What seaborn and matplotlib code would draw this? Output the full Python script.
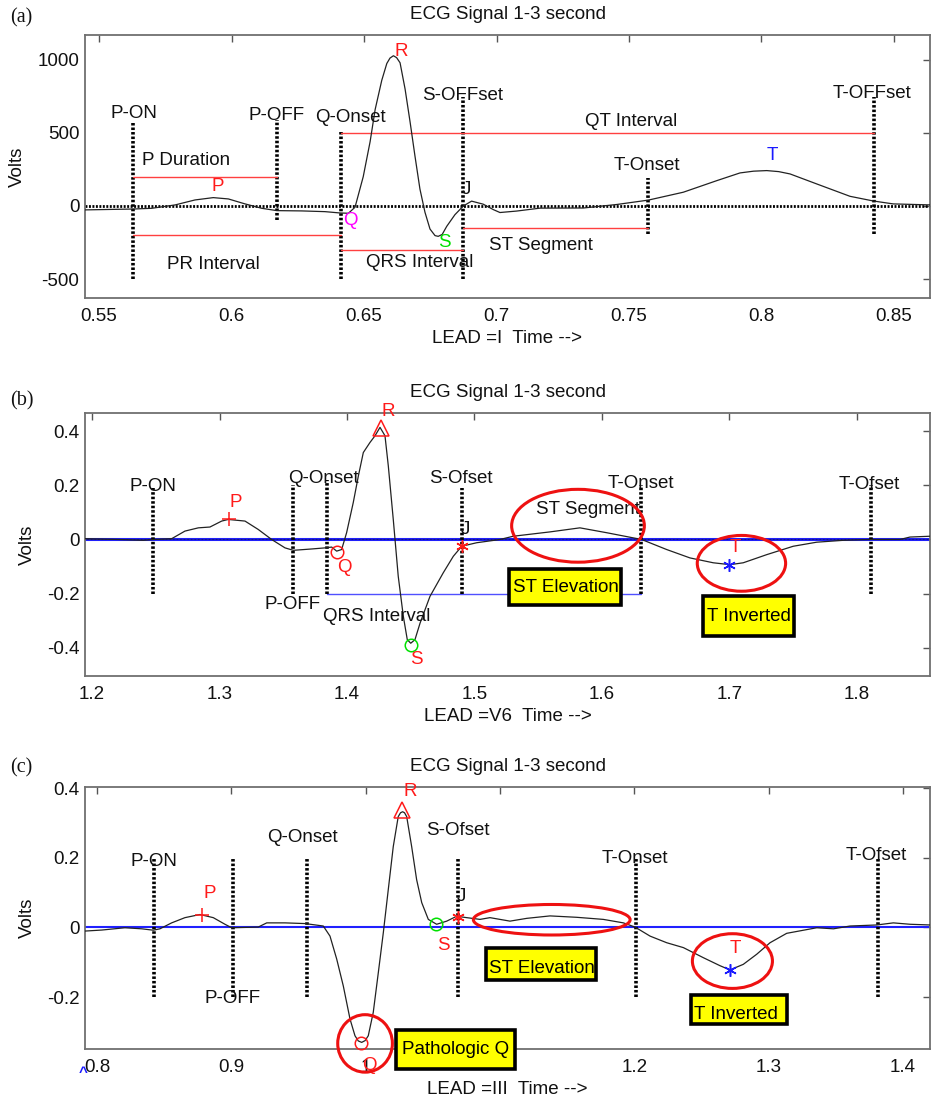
import matplotlib
matplotlib.use("Agg")
import matplotlib.pyplot as plt
import seaborn as sns
import pandas as pd
from matplotlib.patches import Ellipse, Rectangle

# ---------------- data: panel (a) LEAD I ----------------
a_time = [0.5447, 0.5629, 0.5699, 0.5787, 0.5862, 0.5931, 0.5988, 0.6051, 0.6114, 0.6171,
          0.6265, 0.6353, 0.6409, 0.6441, 0.6466, 0.6497, 0.6523, 0.6542, 0.6567, 0.6586,
          0.6598, 0.6611, 0.6623, 0.6636, 0.6655, 0.6674, 0.6692, 0.6711, 0.6730, 0.6749,
          0.6768, 0.6780, 0.6795, 0.6812, 0.6843, 0.6875, 0.6906, 0.6950, 0.6988, 0.7013,
          0.7076, 0.7164, 0.7328, 0.7454, 0.7573, 0.7705, 0.7831, 0.7919, 0.7970, 0.8020,
          0.8065, 0.8108, 0.8208, 0.8334, 0.8422, 0.8497, 0.8640]
a_volts = [-27, -21, -16, 7, 41, 57, 48, 14, -16, -32,
           -34, -39, -48, -50, -9, 200, 440, 660, 860, 975,
           1012, 1028, 1015, 980, 800, 573, 345, 116, -43, -158,
           -203, -208, -195, -140, -60, 0, 33, 12, -25, -45,
           -35, -15, -14, 10, 40, 94, 173, 226, 238, 242,
           235, 219, 151, 66, 34, 14, 7]
a_xticks = [0.55, 0.6, 0.65, 0.7, 0.75, 0.8, 0.85]
a_xticklabels = ["0.55", "0.6", "0.65", "0.7", "0.75", "0.8", "0.85"]
a_yticks = [-500, 0, 500, 1000]
a_yticklabels = ["-500", "0", "500", "1000"]

# ---------------- data: panel (b) LEAD V6 ----------------
b_time = [1.1945, 1.2206, 1.2402, 1.2481, 1.2625, 1.2729, 1.2834, 1.2925, 1.3017, 1.3069,
          1.3200, 1.3304, 1.3409, 1.3514, 1.3579, 1.3723, 1.3827, 1.3880, 1.3919, 1.3958,
          1.3997, 1.4049, 1.4089, 1.4128, 1.4180, 1.4220, 1.4259, 1.4298, 1.4324, 1.4363,
          1.4402, 1.4442, 1.4473, 1.4500, 1.4533, 1.4573, 1.4651, 1.4755, 1.4834, 1.4900,
          1.5017, 1.5200, 1.5304, 1.5592, 1.5827, 1.6037, 1.6311, 1.6507, 1.6690, 1.6873,
          1.7004, 1.7108, 1.7292, 1.7500, 1.7684, 1.7893, 1.8102, 1.8337, 1.8416, 1.8573]
b_volts = [0.003, 0.0, -0.003, 0.0, 0.003, 0.031, 0.043, 0.046, 0.068, 0.074,
           0.068, 0.037, 0.0, -0.031, -0.040, -0.035, -0.031, -0.028, -0.043, -0.037,
           0.025, 0.136, 0.234, 0.321, 0.358, 0.383, 0.414, 0.383, 0.272, 0.074,
           -0.136, -0.284, -0.370, -0.383, -0.370, -0.309, -0.210, -0.123, -0.062, -0.025,
           -0.012, 0.0, 0.012, 0.028, 0.043, 0.025, 0.0, -0.037, -0.068, -0.086,
           -0.093, -0.086, -0.056, -0.025, -0.010, -0.003, 0.0, 0.0, 0.009, 0.012]
b_xticks = [1.2, 1.3, 1.4, 1.5, 1.6, 1.7, 1.8]
b_xticklabels = ["1.2", "1.3", "1.4", "1.5", "1.6", "1.7", "1.8"]
b_yticks = [-0.4, -0.2, 0, 0.2, 0.4]
b_yticklabels = ["-0.4", "-0.2", "0", "0.2", "0.4"]

# ---------------- data: panel (c) LEAD III ----------------
c_time = [0.7911, 0.8035, 0.8208, 0.8333, 0.8419, 0.8469, 0.8556, 0.8655, 0.8767, 0.8866,
          0.8953, 0.9003, 0.9201, 0.9264, 0.9400, 0.9549, 0.9685, 0.9735, 0.9785, 0.9834,
          0.9884, 0.9921, 0.9946, 0.9971, 0.9996, 1.0020, 1.0057, 1.0095, 1.0132, 1.0169,
          1.0206, 1.0243, 1.0260, 1.0276, 1.0290, 1.0306, 1.0343, 1.0380, 1.0418, 1.0467,
          1.0529, 1.0604, 1.0678, 1.0753, 1.0852, 1.0926, 1.1075, 1.1200, 1.1373, 1.1572,
          1.1770, 1.1919, 1.2006, 1.2118, 1.2242, 1.2366, 1.2515, 1.2639, 1.2713, 1.2812,
          1.2912, 1.3011, 1.3135, 1.3359, 1.3483, 1.3607, 1.3806, 1.3929, 1.4054, 1.4203]
c_volts = [-0.0105, -0.0076, -0.001, -0.004, -0.008, -0.004, 0.013, 0.028, 0.037, 0.028,
           0.009, -0.001, 0.001, 0.013, 0.013, 0.011, 0.004, -0.025, -0.091, -0.168,
           -0.263, -0.311, -0.326, -0.330, -0.325, -0.311, -0.244, -0.129, -0.015, 0.109,
           0.232, 0.318, 0.329, 0.332, 0.329, 0.318, 0.232, 0.137, 0.071, 0.023,
           0.009, 0.018, 0.032, 0.028, 0.023, 0.028, 0.018, 0.026, 0.033, 0.029,
           0.023, 0.013, 0.001, -0.025, -0.044, -0.058, -0.087, -0.110, -0.122, -0.106,
           -0.077, -0.044, -0.017, -0.001, -0.004, 0.004, 0.007, 0.013, 0.009, 0.007]
c_xticks = [0.8, 0.9, 1.0, 1.1, 1.2, 1.3, 1.4]
c_xticklabels = ["0.8", "0.9", "1", "", "1.2", "1.3", "1.4"]
c_yticks = [-0.2, 0, 0.2, 0.4]
c_yticklabels = ["-0.2", "0", "0.2", "0.4"]

# ---------------- style ----------------
sns.set_theme(style="white")
plt.rcParams["font.family"] = ["Liberation Sans", "DejaVu Sans"]
plt.rcParams["axes.unicode_minus"] = False

RED = "#ff1a1a"
MAG = "#ff00ff"
GRN = "#00e000"
BLU = "#1a1aff"
FS = 13.5
DOT = (0, (0.7, 0.55))

fig = plt.figure(figsize=(9.31, 11.02), dpi=100)
W, H = 931.0, 1102.0


def make_ax(top_px, bot_px):
    left, right = 85 / W, 930 / W
    return fig.add_axes([left, 1 - bot_px / H, right - left, (bot_px - top_px) / H])


def style_ax(ax, xlim, ylim, xt, xtl, yt, ytl, lead, ylab_x):
    ax.set_xlim(*xlim)
    ax.set_ylim(*ylim)
    ax.set_xticks(xt)
    ax.set_xticklabels(xtl)
    ax.set_yticks(yt)
    ax.set_yticklabels(ytl)
    ax.tick_params(direction="in", length=5, width=1, colors="#555555",
                   labelcolor="#111111", labelsize=FS, top=True, right=True)
    ax.tick_params(axis="x", pad=7)
    ax.tick_params(axis="y", pad=4)
    for s in ax.spines.values():
        s.set_color("#707070")
        s.set_linewidth(1.3)
        s.set_visible(True)
    ax.set_xlabel("")
    ax.set_ylabel("")
    ax.text(0.5, 1.078, "ECG Signal 1-3 second", transform=ax.transAxes,
            ha="center", va="center", fontsize=FS, color="#111111")
    ax.text(0.5, -0.155, f"LEAD ={lead}  Time -->", transform=ax.transAxes,
            ha="center", va="center", fontsize=FS, color="#111111")
    ax.text(ylab_x, 0.5, "Volts", transform=ax.transAxes, rotation=90,
            ha="center", va="center", fontsize=FS, color="#111111")


def draw_texts(ax, items):
    for label, x, y, col in items:
        ax.text(x, y, label, ha="left", va="center", fontsize=FS, color=col,
                clip_on=False, zorder=6)


def vlines(ax, items):
    for x, y0, y1 in items:
        ax.plot([x, x], [y0, y1], color="black", lw=2.6, ls=DOT, zorder=3)


def boxes(ax, items):
    for label, x0, x1, y0, y1, tx, ty in items:
        ax.add_patch(Rectangle((x0, y0), x1 - x0, y1 - y0, facecolor="#ffff00",
                               edgecolor="black", lw=2.6, zorder=7, clip_on=False))
        ax.text(tx, ty, label, ha="left", va="center", fontsize=FS,
                color="black", zorder=8, clip_on=False)


def ellipses(ax, items):
    for cx, cy, w, h in items:
        ax.add_patch(Ellipse((cx, cy), w, h, fill=False, edgecolor="#ee1111",
                             lw=2.2, zorder=6, clip_on=False))


def markers(ax, items):
    for x, y, m, col, ms in items:
        ax.plot([x], [y], marker=m, color=col, mfc="none", mec=col, ms=ms,
                mew=1.1, ls="none", zorder=5, clip_on=False)


ASTER = (6, 2, 0)

# ================= panel (a) =================
axa = make_ax(35, 298)
dfa = pd.DataFrame({"time": a_time, "volts": a_volts})
axa.axhline(0, color="black", lw=2.0, ls=DOT, zorder=2)
sns.lineplot(data=dfa, x="time", y="volts", ax=axa, color="#222222", lw=0.9,
             estimator=None, sort=False, zorder=4)
style_ax(axa, (0.5447, 0.8636), (-630, 1170), a_xticks, a_xticklabels,
         a_yticks, a_yticklabels, "I", -0.0798)
vlines(axa, [(0.5628, -500, 577), (0.6172, -94, 585), (0.6412, -500, 505),
             (0.6872, -500, 745), (0.7573, -192, 192), (0.8424, -192, 745)])
for x0, x1, y in [(0.5628, 0.6172, 200), (0.5628, 0.6412, -200), (0.6412, 0.8424, 500),
                  (0.6412, 0.6872, -300), (0.6872, 0.7573, -150)]:
    axa.plot([x0, x1], [y, y], color="#ff4040", lw=1.0, zorder=3)
draw_texts(axa, [
    ("P-ON", 0.5542, 630, "#111111"), ("P-OFF", 0.6063, 618, "#111111"),
    ("Q-Onset", 0.6315, 603, "#111111"), ("S-OFFset", 0.6718, 755, "#111111"),
    ("QT Interval", 0.7334, 577, "#111111"), ("T-Onset", 0.7441, 276, "#111111"),
    ("T-OFFset", 0.8269, 772, "#111111"), ("P Duration", 0.5663, 310, "#111111"),
    ("PR Interval", 0.5755, -404, "#111111"), ("QRS Interval", 0.6508, -390, "#111111"),
    ("ST Segment", 0.6973, -272, "#111111"), ("R", 0.6614, 1060, RED),
    ("P", 0.5925, 132, RED), ("Q", 0.6422, -100, MAG), ("S", 0.6780, -249, GRN),
    ("J", 0.6869, 112, "#111111"), ("T", 0.8020, 345, BLU)])

# ================= panel (b) =================
axb = make_ax(413, 676)
dfb = pd.DataFrame({"time": b_time, "volts": b_volts})
axb.axhline(0, color="#2020ff", lw=2.2, zorder=2)
axb.axhline(0, color="#101060", lw=0.8, ls=DOT, zorder=2)
sns.lineplot(data=dfb, x="time", y="volts", ax=axb, color="#222222", lw=0.9,
             estimator=None, sort=False, zorder=4)
style_ax(axb, (1.1945, 1.8573), (-0.504, 0.467), b_xticks, b_xticklabels,
         b_yticks, b_yticklabels, "V6", -0.0686)
axb.plot([1.384, 1.6306], [-0.2, -0.2], color="#5050ff", lw=1.0, zorder=3)
vlines(axb, [(1.248, -0.2, 0.19), (1.358, -0.2, 0.2), (1.384, -0.2, 0.22),
             (1.490, -0.2, 0.19), (1.6306, -0.2, 0.2), (1.8107, -0.2, 0.2)])
markers(axb, [(1.3077, 0.074, "+", RED, 10), (1.4267, 0.41, "^", RED, 11),
              (1.3919, -0.047, "o", RED, 9), (1.4500, -0.389, "o", GRN, 9),
              (1.4900, -0.025, ASTER, RED, 9), (1.7000, -0.095, ASTER, BLU, 9)])
draw_texts(axb, [
    ("P-ON", 1.2293, 0.197, "#111111"), ("Q-Onset", 1.354, 0.226, "#111111"),
    ("P-OFF", 1.3352, -0.241, "#111111"), ("QRS Interval", 1.381, -0.286, "#111111"),
    ("S-Ofset", 1.4643, 0.226, "#111111"), ("J", 1.4894, 0.037, "#111111"),
    ("R", 1.4272, 0.471, RED), ("P", 1.3082, 0.136, RED), ("Q", 1.3919, -0.105, RED),
    ("S", 1.4494, -0.444, RED), ("ST Segment", 1.5482, 0.109, "#111111"),
    ("T-Onset", 1.6042, 0.207, "#111111"), ("T-Ofset", 1.7853, 0.204, "#111111"),
    ("T", 1.7004, -0.031, RED)])
ellipses(axb, [(1.5812, 0.0507, 0.1041, 0.269), (1.7094, -0.088, 0.0693, 0.206)])
boxes(axb, [("ST Elevation", 1.5273, 1.6146, -0.2407, -0.1085, 1.5304, -0.178),
            ("T Inverted", 1.6795, 1.7508, -0.358, -0.210, 1.6820, -0.286)])

# ================= panel (c) =================
axc = make_ax(787, 1049)
dfc = pd.DataFrame({"time": c_time, "volts": c_volts})
axc.axhline(0, color="#2020ff", lw=1.5, zorder=2)
sns.lineplot(data=dfc, x="time", y="volts", ax=axc, color="#222222", lw=0.9,
             estimator=None, sort=False, zorder=4)
style_ax(axc, (0.7911, 1.4202), (-0.349, 0.403), c_xticks, c_xticklabels,
         c_yticks, c_yticklabels, "III", -0.0686)
vlines(axc, [(0.8424, -0.2, 0.2), (0.9015, -0.2, 0.2), (0.9566, -0.2, 0.2),
             (1.0686, -0.2, 0.2), (1.2011, -0.2, 0.2), (1.3813, -0.2, 0.2)])
markers(axc, [(0.8784, 0.035, "+", RED, 10), (1.0273, 0.337, "^", RED, 11),
              (0.9966, -0.331, "o", RED, 9), (1.0524, 0.0086, "o", GRN, 9),
              (1.0686, 0.0305, ASTER, RED, 9), (1.2713, -0.122, ASTER, BLU, 9)])
draw_texts(axc, [
    ("P-ON", 0.8253, 0.19, "#111111"), ("Q-Onset", 0.9264, 0.259, "#111111"),
    ("P-OFF", 0.8804, -0.203, "#111111"), ("S-Ofset", 1.0447, 0.278, "#111111"),
    ("J", 1.0678, 0.09, "#111111"), ("R", 1.0281, 0.391, RED),
    ("P", 0.8792, 0.097, RED), ("S", 1.0529, -0.051, RED), ("Q", 0.9971, -0.396, RED),
    ("T-Onset", 1.1757, 0.197, "#111111"), ("T-Ofset", 1.3577, 0.207, "#111111"),
    ("T", 1.2708, -0.06, RED)])
ellipses(axc, [(0.9996, -0.333, 0.0407, 0.165), (1.1386, 0.022, 0.1167, 0.0876),
               (1.2731, -0.0966, 0.0596, 0.157)])
boxes(axc, [("ST Elevation", 1.0894, 1.1713, -0.1514, -0.060, 1.0921, -0.118),
            ("T Inverted", 1.2421, 1.3135, -0.2771, -0.1934, 1.2445, -0.250),
            ("Pathologic Q", 1.0224, 1.1113, -0.4077, -0.2943, 1.0268, -0.351)])

# panel letters
for lab, ypx in [("(a)", 18), ("(b)", 401), ("(c)", 768)]:
    fig.text(10 / W, 1 - ypx / H, lab, ha="left", va="center", fontsize=14.5,
             family=["Liberation Serif", "DejaVu Serif"], color="#111111")
fig.text(83 / W, 1 - 1073 / H, "^", ha="center", va="center", fontsize=11,
         color=BLU, fontweight="bold")

fig.savefig("out.png", dpi=100)
